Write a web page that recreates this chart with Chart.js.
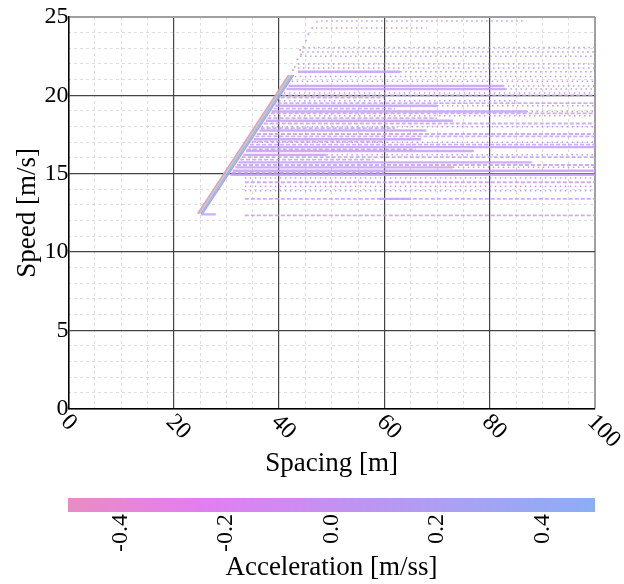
<!DOCTYPE html>
<html>
<head>
<meta charset="utf-8">
<script src="https://cdn.jsdelivr.net/npm/chart.js"></script>
<style>
  body { margin: 0; background: #fff; }
  #wrap { position: relative; width: 624px; height: 584px; }
  #main { position: absolute; left: 0; top: 0; }
  #bar { position: absolute; left: 0; top: 480px; }
</style>
</head>
<body>
<div id="wrap">
  <canvas id="main" width="624" height="480"></canvas>
  <canvas id="bar" width="624" height="104"></canvas>
</div>
<script>
// axis ticks
const xTicks = [0, 20, 40, 60, 80, 100];
const yTicks = [0, 5, 10, 15, 20, 25];
const cbTicks = [-0.4, -0.2, 0.0, 0.2, 0.4];

// diagonal car-following band, read at both ends
const bandSpeed = [12.44, 21.3];
const bandPinkX = [24.55, 41.85];
const bandGreenX = [24.85, 42.15];
const bandBlueX = [25.15, 42.45];
const bandPurpleX = [25.45, 42.75];

// stray points above the band
const strayX = [42.6, 43.0, 43.5, 44.0, 44.2, 44.6, 45.1, 45.6, 46.3, 47.2];
const strayY = [21.6, 21.8, 22.3, 22.9, 22.6, 23.1, 23.5, 23.9, 24.3, 24.7];

// continuous streaks (speed, start spacing, end spacing)
const solidSpeed = [21.5, 20.6, 20.4, 19.33, 18.97, 18.38, 17.75, 17.2, 16.69, 16.45, 16.2, 15.72, 15.4, 15.18, 14.93, 13.39, 12.4];
const solidStart = [43.6, 41.8, 41.4, 39.3, 38.6, 37.5, 36.3, 35.2, 34.2, 33.7, 33.2, 32.3, 31.7, 31.2, 30.8, 59.0, 25.2];
const solidEnd   = [63, 82.5, 83, 70, 87, 73, 68, 67, 100, 77, 49, 88, 73, 100, 100, 65, 28];

// dense broken streaks
const dashSpeed = [20.0, 19.85, 19.5, 19.15, 18.85, 18.55, 18.2, 17.9, 17.53, 17.38, 17.05, 16.85, 16.55, 16.05, 15.9, 15.55, 15.05, 14.45, 13.39, 12.33];
const dashStart = [40.6, 40.3, 39.7, 39.0, 38.4, 37.8, 37.1, 36.5, 35.8, 35.5, 34.9, 34.5, 33.9, 32.9, 32.6, 32.0, 31.0, 33.5, 33.5, 33.5];
const dashEnd   = [100, 60, 100, 62, 100, 70, 100, 62, 100, 100, 60, 100, 66, 100, 58, 100, 60, 100, 100, 100];

// sparse dotted rows
const dotSpeed = [24.75, 24.3, 23.05, 22.76, 22.5, 22.0, 21.75, 21.5, 21.2, 20.9, 20.6, 20.4, 20.15, 19.65, 19.33, 18.97, 18.7, 18.0, 17.0, 16.2, 15.4, 14.72, 14.2, 13.9];
const dotStart = [48, 47, 44.6, 44.4, 44.0, 43.6, 43.6, 63, 43.0, 42.4, 82.5, 83, 40.9, 40.0, 70, 87, 38.1, 36.7, 34.8, 49, 73, 33.5, 33.5, 33.5];
const dotEnd   = [87, 68, 100, 100, 100, 100, 100, 100, 100, 100, 100, 100, 100, 85, 100, 100, 100, 100, 100, 100, 100, 100, 100, 100];

const serif = '"Liberation Serif", "Times New Roman", serif';
const streakColor = 'rgba(196,160,245,0.85)';
const dotColor = 'rgba(185,145,240,0.9)';
const strayColors = ['#e896c8', '#9fd8a0', '#98b4f0', '#c49cf0'];

const datasets = [];
function row(v, a, b, style) {
  datasets.push(Object.assign({
    type: 'line', data: [{ x: a, y: v }, { x: b, y: v }], pointRadius: 0, order: 2
  }, style));
}
solidSpeed.forEach((v, i) => row(v, solidStart[i], solidEnd[i], { borderColor: streakColor, borderWidth: 2.4 }));
dashSpeed.forEach((v, i) => row(v, dashStart[i], dashEnd[i], { borderColor: streakColor, borderWidth: 1.8, borderDash: [4, 2] }));
dotSpeed.forEach((v, i) => row(v, dotStart[i], dotEnd[i], { borderColor: dotColor, borderWidth: 1.5, borderDash: [1.5, 3.5] }));

function band(xs, color) {
  datasets.push({
    type: 'line', data: xs.map((x, i) => ({ x: x, y: bandSpeed[i] })),
    borderColor: color, borderWidth: 1.6, pointRadius: 0, order: 0
  });
}
band(bandPinkX, 'rgba(232,150,200,0.95)');
band(bandGreenX, 'rgba(165,218,170,0.95)');
band(bandBlueX, 'rgba(150,180,240,0.95)');
band(bandPurpleX, 'rgba(190,150,240,0.95)');
datasets.push({
  type: 'scatter', data: strayX.map((x, i) => ({ x: x, y: strayY[i] })),
  pointRadius: 1, pointBorderWidth: 0,
  pointBackgroundColor: strayX.map((x, i) => strayColors[i % strayColors.length]), order: 1
});

// x tick labels rotated clockwise, drawn at the scale's own tick pixels
const xLabels = {
  id: 'xLabels',
  afterDraw(chart) {
    const s = chart.scales.x, ctx = chart.ctx;
    ctx.save();
    ctx.font = '24px ' + serif;
    ctx.fillStyle = '#000';
    ctx.textAlign = 'left';
    ctx.textBaseline = 'middle';
    xTicks.forEach(v => {
      ctx.save();
      ctx.translate(s.getPixelForValue(v) - 4, s.top + 10);
      ctx.rotate(Math.PI / 4);
      ctx.fillText(String(v), 0, 0);
      ctx.restore();
    });
    ctx.restore();
  }
};

new Chart(document.getElementById('main'), {
  type: 'line',
  data: { datasets: datasets },
  options: {
    responsive: false,
    animation: false,
    parsing: false,
    layout: { padding: { left: 0, right: 29, top: 17, bottom: 0 } },
    plugins: { legend: { display: false }, tooltip: { enabled: false } },
    scales: {
      xMinor: {
        type: 'linear', position: 'bottom', min: 0, max: 100,
        ticks: { display: false, stepSize: 5 },
        grid: { drawTicks: false, color: c => c.tick.value % 20 ? '#dedede' : 'rgba(0,0,0,0)' },
        border: { display: false, dash: [3, 3] }
      },
      yMinor: {
        type: 'linear', position: 'left', min: 0, max: 25,
        ticks: { display: false, stepSize: 1 },
        grid: { drawTicks: false, color: c => c.tick.value % 5 ? '#dedede' : 'rgba(0,0,0,0)' },
        border: { display: false, dash: [3, 3] }
      },
      x: {
        type: 'linear', position: 'bottom', min: 0, max: 100,
        afterBuildTicks: s => { s.ticks = xTicks.map(v => ({ value: v })); },
        ticks: { display: false },
        grid: {
          drawTicks: false,
          color: c => c.tick.value === 100 ? '#a0a0a0' : '#444',
          lineWidth: c => c.tick.value === 100 ? 2 : 1.2
        },
        border: { color: '#000', width: 1.5 },
        title: { display: true, text: 'Spacing [m]', color: '#000', font: { family: serif, size: 27 }, padding: { top: 39, bottom: 0 } }
      },
      y: {
        type: 'linear', position: 'left', min: 0, max: 25,
        afterBuildTicks: s => { s.ticks = yTicks.map(v => ({ value: v })); },
        ticks: { color: '#000', font: { family: serif, size: 24 }, padding: 0 },
        grid: {
          drawTicks: false,
          color: c => c.tick.value === 25 ? '#a0a0a0' : '#444',
          lineWidth: c => c.tick.value === 25 ? 2 : 1.2
        },
        border: { color: '#000', width: 1.5 },
        title: { display: true, text: 'Speed [m/s]', color: '#000', font: { family: serif, size: 27 }, padding: { top: 12, bottom: 0 } }
      }
    }
  },
  plugins: [xLabels]
});

// colour bar
const cbStops = [-0.5, -0.25, 0.0, 0.25, 0.5];
const cbColors = ['#e88cc4', '#e27ff0', '#c590f0', '#a8a2f2', '#8aaef4'];
const cbFill = {
  id: 'cbFill',
  beforeDatasetsDraw(chart) {
    const a = chart.chartArea, ctx = chart.ctx, s = chart.scales.x;
    const g = ctx.createLinearGradient(a.left, 0, a.right, 0);
    cbStops.forEach((v, i) => g.addColorStop((s.getPixelForValue(v) - a.left) / (a.right - a.left), cbColors[i]));
    ctx.save();
    ctx.fillStyle = g;
    ctx.fillRect(a.left, a.top, a.right - a.left, a.bottom - a.top);
    ctx.restore();
  }
};

new Chart(document.getElementById('bar'), {
  type: 'scatter',
  data: { datasets: [{ data: [] }] },
  options: {
    responsive: false,
    animation: false,
    layout: { padding: { left: 68, right: 29, top: 18, bottom: 0 } },
    plugins: { legend: { display: false }, tooltip: { enabled: false } },
    scales: {
      x: {
        type: 'linear', min: -0.5, max: 0.5,
        afterBuildTicks: s => { s.ticks = cbTicks.map(v => ({ value: v })); },
        afterFit: s => { s.height = 72; },
        ticks: {
          autoSkip: false, minRotation: 90, maxRotation: 90, padding: 2,
          color: '#000', font: { family: serif, size: 24 },
          callback: v => v.toFixed(1)
        },
        grid: { display: false, drawTicks: false },
        border: { display: false },
        title: { display: true, text: 'Acceleration [m/ss]', color: '#000', font: { family: serif, size: 27 }, padding: { top: 0, bottom: 0 } }
      },
      y: { display: false, min: 0, max: 1 }
    }
  },
  plugins: [cbFill]
});
</script>
</body>
</html>
